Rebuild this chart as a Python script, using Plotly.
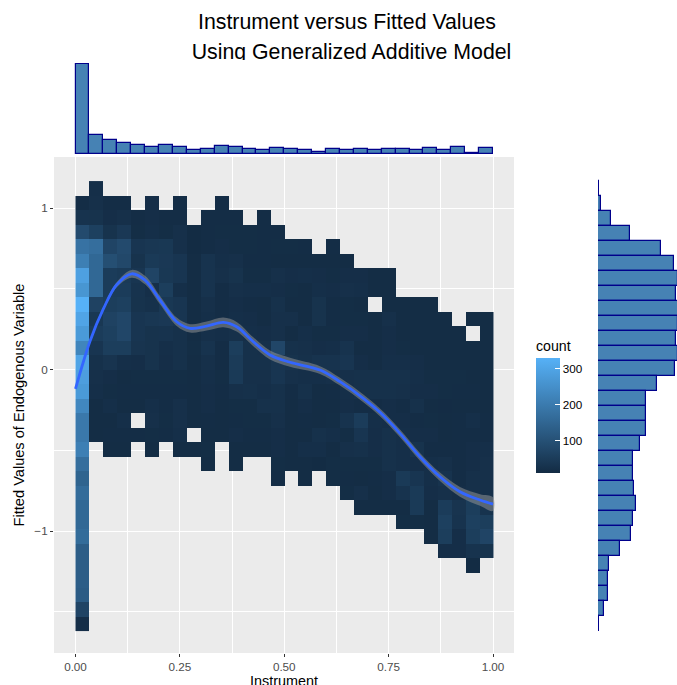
import plotly.graph_objects as go

W, H = 677, 685

# Count bins, top row first, columns left to right (None = empty bin)
_ = None
counts = [
    [_, 20],
    [15, 22, 15, 15, _, 18, _, 15, _, _, 15],
    [30, 28, 18, 22, 15, 18, 15, 15, _, 15, 15, 15, _, 15],
    [85, 60, 28, 42, 16, 20, 16, 22, 12, 15, 16, 16, 16, 15, 15],
    [180, 170, 70, 85, 35, 38, 40, 22, 12, 15, 18, 16, 16, 15, 16, 16, 15, _, 15],
    [210, 155, 95, 80, 28, 45, 42, 35, 14, 30, 20, 22, 15, 15, 14, 14, 14, 14, 14, 14],
    [290, 155, 50, 45, 35, 70, 40, 35, 14, 30, 22, 28, 16, 16, 22, 18, 20, 18, 16, 18, 18, 14, 14],
    [265, 155, 50, 50, 30, 20, 55, 20, 14, 30, 15, 22, 20, 20, 18, 16, 14, 20, 18, 22, 20, 14, 14],
    [330, 65, 55, 60, 28, 25, 40, 35, 14, 22, 15, 18, 15, 14, 25, 14, 14, 28, 15, 16, 14, _, 14, 14, 14, 14],
    [300, 40, 65, 75, 35, 38, 42, 35, 14, 20, 15, 20, 18, 14, 22, 22, 14, 28, 15, 16, 16, 14, 22, 14, 14, 14, 14, _, 14, 14],
    [275, 50, 60, 75, 35, 28, 30, 25, 14, 22, 20, 25, 20, 18, 22, 14, 20, 16, 16, 18, 18, 14, 18, 14, 14, 14, 14, 14, _, 14],
    [225, 35, 55, 55, 32, 28, 20, 25, 16, 30, 15, 55, 25, 22, 75, 25, 22, 18, 20, 30, 14, 14, 18, 16, 14, 14, 14, 14, 14, 14],
    [300, 25, 32, 20, 18, 28, 18, 25, 14, 22, 15, 48, 25, 25, 35, 28, 25, 30, 30, 35, 18, 14, 20, 20, 18, 14, 14, 14, 14, 14],
    [285, 22, 18, 14, 16, 16, 16, 16, 14, 20, 16, 45, 22, 22, 35, 22, 20, 20, 22, 22, 25, 25, 25, 25, 20, 16, 16, 16, 14, 14],
    [275, 20, 16, 15, 15, 15, 15, 15, 14, 18, 15, 22, 25, 20, 25, 15, 25, 14, 15, 20, 25, 25, 25, 22, 18, 18, 16, 15, 15, 14],
    [230, 14, 20, 14, 14, 20, 15, 22, 14, 18, 14, 16, 16, 25, 25, 14, 18, 14, 14, 18, 15, 15, 18, 15, 25, 14, 13, 14, 14, 14],
    [195, 14, 14, 20, _, 22, 16, 22, 14, 15, 14, 15, 16, 16, 22, 14, 15, 14, 16, 30, 50, 20, 18, 18, 15, 16, 14, 15, 20, 15],
    [195, 14, 15, 15, 15, 16, 15, 20, _, 14, 14, 18, 15, 15, 18, 14, 14, 25, 20, 16, 35, 18, 25, 20, 18, 18, 14, 15, 15, 15],
    [210, _, 14, 14, _, 14, _, 14, 14, 16, _, 14, 14, 14, 18, 14, 20, 20, 14, 22, 25, 18, 25, 20, 28, 15, 15, 15, 18, 20],
    [170, _, _, _, _, _, _, _, _, 14, _, 14, _, _, 16, 14, 14, 12, 16, 16, 16, 16, 25, 20, 18, 20, 22, 15, 18, 22],
    [145, _, _, _, _, _, _, _, _, _, _, _, _, _, 15, _, 14, _, 16, 15, 14, 15, 18, 45, 35, 20, 30, 15, 22, 22],
    [165, _, _, _, _, _, _, _, _, _, _, _, _, _, _, _, _, _, _, 16, 22, 14, 18, 30, 45, 18, 22, 18, 22, 22],
    [155, _, _, _, _, _, _, _, _, _, _, _, _, _, _, _, _, _, _, _, 14, 14, 14, 14, 45, 14, 50, 32, 55, 30],
    [155, _, _, _, _, _, _, _, _, _, _, _, _, _, _, _, _, _, _, _, _, _, _, 16, 16, 14, 60, 30, 60, 55],
    [165, _, _, _, _, _, _, _, _, _, _, _, _, _, _, _, _, _, _, _, _, _, _, _, _, 14, 55, 18, 55, 70],
    [130, _, _, _, _, _, _, _, _, _, _, _, _, _, _, _, _, _, _, _, _, _, _, _, _, _, 18, 18, 30, 28],
    [130, _, _, _, _, _, _, _, _, _, _, _, _, _, _, _, _, _, _, _, _, _, _, _, _, _, _, _, 12],
    [130],
    [125],
    [70],
    [18],
]

# Marginal histograms
top_hist = [5400, 1140, 840, 640, 520, 440, 540, 420, 240, 320,
            460, 400, 300, 260, 340, 280, 260, 140, 320, 220,
            320, 240, 320, 300, 220, 340, 220, 420, 40, 380]
right_hist = [8, 32, 156, 388, 760, 916, 960, 932, 972, 960,
              936, 964, 928, 712, 580, 572, 576, 504, 420, 424,
              428, 456, 420, 396, 260, 132, 120, 116, 76, 8]

# GAM fit and standard error
gam_x = [0.0, 0.0347, 0.0667, 0.0986, 0.1346, 0.1665, 0.2024, 0.2424, 0.2743, 0.3142,
         0.3541, 0.386, 0.4259, 0.4659, 0.5138, 0.5856, 0.6335, 0.6894,
         0.7293, 0.7772, 0.8251, 0.873, 0.9209, 0.9689, 1.0]
gam_y = [-0.12, 0.175, 0.375, 0.525, 0.593, 0.554, 0.43, 0.296, 0.255, 0.269,
         0.292, 0.265, 0.172, 0.09, 0.045, -0.003, -0.075, -0.178,
         -0.265, -0.395, -0.54, -0.664, -0.757, -0.808, -0.833]
gam_se = [0.012, 0.012, 0.012, 0.016, 0.024, 0.026, 0.026, 0.026, 0.026, 0.028,
          0.03, 0.03, 0.028, 0.028, 0.028, 0.024, 0.024, 0.024,
          0.024, 0.024, 0.024, 0.026, 0.03, 0.036, 0.042]

x_ticks = [0, 0.25, 0.5, 0.75, 1]
x_labels = ["0.00", "0.25", "0.50", "0.75", "1.00"]
y_ticks = [-1, 0, 1]
y_labels = ["\u22121", "0", "1"]
title_lines = ["Instrument versus Fitted Values", "Using Generalized Additive Model"]

FONT = "Liberation Sans"
DARK = "#00008B"
STEEL = "#4682B4"

x_range = [-0.0515, 1.0503]
y_range = [-1.755, 1.316]
x_domain = [54 / W, 514 / W]
y_domain = [(H - 653) / H, (H - 157) / H]

# bin positions
x_bins = [(i + 0.5) / 30 for i in range(30)]
y_top = 1.167
y_bins = [y_top - (i + 0.5) * 0.0899 for i in range(len(counts))]
y_hist = [y_top - (i + 0.5) * 0.0929 for i in range(len(right_hist))]
z = [row + [None] * (30 - len(row)) for row in counts]

fig = go.Figure()

fig.add_trace(go.Heatmap(
    x=x_bins, y=y_bins, z=z, zmin=10, zmax=330, hoverongaps=False,
    colorscale=[[0, "#132B43"], [1, "#56B1F7"]],
    colorbar=dict(
        title=dict(text="count", side="top", font=dict(size=14.2, color="#000000", family=FONT)),
        x=536 / W, xanchor="left", xpad=0,
        y=(H - 405) / H, yanchor="middle", ypad=0,
        lenmode="pixels", len=136, thicknessmode="pixels", thickness=24,
        outlinewidth=0, tickvals=[100, 200, 300], ticks="inside", ticklen=5,
        tickprefix="\u00a0", tickcolor="white", tickfont=dict(size=11.7, color="#000000", family=FONT),
    ),
))

# GAM ribbon and line
upper = [y + s for y, s in zip(gam_y, gam_se)]
lower = [y - s for y, s in zip(gam_y, gam_se)]
fig.add_trace(go.Scatter(
    x=gam_x + gam_x[::-1], y=upper + lower[::-1], mode="lines", fill="toself",
    fillcolor="rgba(153,153,153,0.5)", line=dict(width=0, shape="spline"),
    hoverinfo="skip", showlegend=False,
))
fig.add_trace(go.Scatter(
    x=gam_x, y=gam_y, mode="lines", line=dict(color="#3366FF", width=2.8, shape="spline"),
    showlegend=False,
))

# Marginals
fig.add_trace(go.Bar(
    x=x_bins, y=top_hist, width=1 / 30, xaxis="x2", yaxis="y2",
    marker=dict(color=STEEL, line=dict(color=DARK, width=1.2)), showlegend=False,
))
fig.add_trace(go.Bar(
    y=y_hist, x=right_hist, width=0.0929, orientation="h", xaxis="x3", yaxis="y3",
    marker=dict(color=STEEL, line=dict(color=DARK, width=1.2)), showlegend=False,
))

# Title lives in its own clipped subplot so the second line gets cut like the original
fig.add_trace(go.Scatter(
    x=[347, 351.5], y=[36, 6], text=title_lines, mode="text", xaxis="x4", yaxis="y4",
    textfont=dict(size=21.3, color="#000000", family=FONT), textposition="middle center",
    cliponaxis=True, hoverinfo="skip", showlegend=False,
))

hidden = dict(visible=False, showgrid=False, zeroline=False)

fig.update_layout(
    template="none",
    width=W, height=H, autosize=False,
    margin=dict(l=0, r=0, t=0, b=0, autoexpand=False),
    paper_bgcolor="white", plot_bgcolor="rgba(0,0,0,0)",
    bargap=0, showlegend=False,
    font=dict(family=FONT),
    xaxis=dict(
        domain=x_domain, range=x_range, anchor="y", zeroline=False, showline=False,
        tickvals=x_ticks, ticktext=x_labels, ticks="outside", ticklen=3, tickwidth=1,
        tickcolor="#333333", tickfont=dict(size=11.7, color="#4D4D4D"),
        showgrid=True, gridcolor="white", gridwidth=1.3,
        minor=dict(tickvals=[0.125, 0.375, 0.625, 0.875], showgrid=True, gridcolor="white", gridwidth=0.7, ticks=""),
    ),
    yaxis=dict(
        domain=y_domain, range=y_range, anchor="x", zeroline=False, showline=False,
        tickvals=y_ticks, ticktext=y_labels, ticks="outside", ticklen=3, tickwidth=1,
        tickcolor="#333333", tickfont=dict(size=11.7, color="#4D4D4D"),
        showgrid=True, gridcolor="white", gridwidth=1.3,
        minor=dict(tickvals=[-1.5, -0.5, 0.5], showgrid=True, gridcolor="white", gridwidth=0.7, ticks=""),
        title=dict(text="Fitted Values of Endogenous Variable", standoff=5.5, font=dict(size=14.6, color="#000000")),
    ),
    xaxis2=dict(hidden, domain=x_domain, range=x_range, anchor="y2"),
    yaxis2=dict(hidden, domain=[(H - 154) / H, (H - 63) / H], range=[0, 5460], anchor="x2"),
    xaxis3=dict(hidden, domain=[598 / W, 1], range=[0, 948], anchor="y3"),
    yaxis3=dict(hidden, domain=y_domain, range=y_range, anchor="x3"),
    xaxis4=dict(hidden, domain=[0, 1], range=[0, W], anchor="y4"),
    yaxis4=dict(hidden, domain=[(H - 60) / H, 1], range=[0, 60], anchor="x4"),
    annotations=[dict(text="Instrument", xref="paper", yref="paper", x=284 / W, y=(H - 681) / H,
                      xanchor="center", yanchor="middle", showarrow=False,
                      font=dict(size=14.4, color="#000000", family=FONT))],
)

# grey panel behind the main plot only
fig.add_shape(type="rect", xref="paper", yref="paper", layer="below", line_width=0, fillcolor="#EBEBEB",
              x0=x_domain[0], x1=x_domain[1], y0=y_domain[0], y1=y_domain[1])

fig.write_html("out.html", config=dict(displayModeBar=False),
               post_script="document.body.style.margin='0';document.body.style.overflow='hidden';")
